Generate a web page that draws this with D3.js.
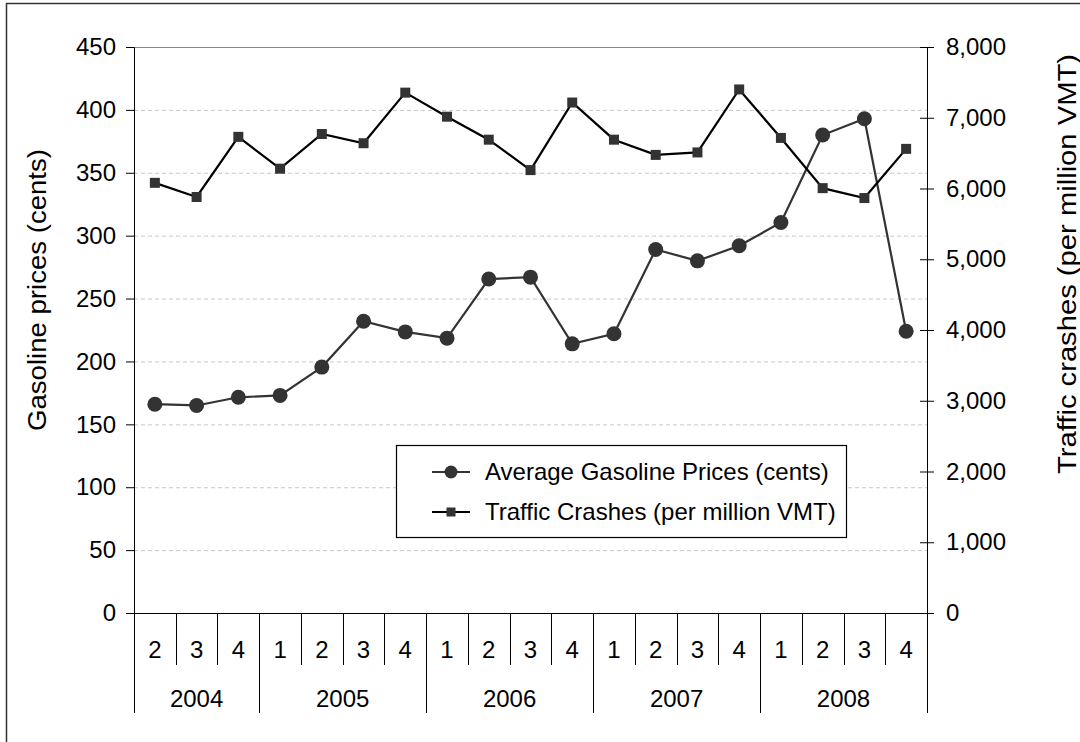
<!DOCTYPE html>
<html>
<head>
<meta charset="utf-8">
<script src="https://cdn.jsdelivr.net/npm/d3@7"></script>
<style>
  body { margin: 0; background: #fff; }
  svg { display: block; }
  text { font-family: "Liberation Sans", Arial, sans-serif; fill: #000; }
</style>
</head>
<body>
<div id="chart"></div>
<script>

//********************* DATA ************************************

var years = ["2004", "2005", "2006", "2007", "2008"];
var quarters = ["2", "3", "4", "1", "2", "3", "4", "1", "2", "3", "4",
                "1", "2", "3", "4", "1", "2", "3", "4"];
var yearOf = ["2004", "2004", "2004", "2005", "2005", "2005", "2005",
              "2006", "2006", "2006", "2006", "2007", "2007", "2007", "2007",
              "2008", "2008", "2008", "2008"];
var gasPrices = [166, 165, 171.5, 173, 195.5, 232, 223.5, 218.5, 265.5, 267,
                 214, 222, 289, 280, 292, 310.5, 380, 393, 224];
var crashes = [6080, 5880, 6730, 6280, 6770, 6640, 7355, 7015, 6690, 6260,
               7215, 6690, 6475, 6510, 7400, 6715, 6005, 5865, 6560];
var leftTicks = [0, 50, 100, 150, 200, 250, 300, 350, 400, 450];
var rightTicks = [0, 1000, 2000, 3000, 4000, 5000, 6000, 7000, 8000];

//********************* DIMENSIONS ************************************

var W = 1080, H = 742;
var margin = {top: 47, right: 153, bottom: 129, left: 134},
    width = W - margin.left - margin.right,
    height = H - margin.top - margin.bottom;

var svg = d3.select("#chart").append("svg")
    .attr("width", W)
    .attr("height", H);

// outer frame
svg.append("rect")
    .attr("x", 6.5).attr("y", 3.5)
    .attr("width", W + 10).attr("height", H + 10)
    .attr("fill", "none")
    .attr("stroke", "#333")
    .attr("stroke-width", 1.5);

var g = svg.append("g")
    .attr("transform", "translate(" + margin.left + "," + margin.top + ")");

var idx = d3.range(quarters.length);
var x = d3.scaleBand().domain(idx).range([0, width]).padding(0);
var yLeft = d3.scaleLinear().domain([0, 450]).range([height, 0]);
var yRight = d3.scaleLinear().domain([0, 8000]).range([height, 0]);

//********************* GRID ************************************

g.append("g").selectAll("line")
    .data(leftTicks.filter(function(d) { return d > 0 && d < 450; }))
  .enter().append("line")
    .attr("x1", 0).attr("x2", width)
    .attr("y1", function(d) { return yLeft(d) + 0.5; })
    .attr("y2", function(d) { return yLeft(d) + 0.5; })
    .attr("stroke", "#c8c8c8")
    .attr("stroke-dasharray", "4,3");

g.append("line")
    .attr("x1", 0).attr("x2", width)
    .attr("y1", yLeft(450) + 0.5).attr("y2", yLeft(450) + 0.5)
    .attr("stroke", "#888");

//********************* AXES ************************************

var leftAxis = g.append("g")
    .call(d3.axisLeft(yLeft).tickValues(leftTicks).tickSize(8).tickPadding(10));

var rightAxis = g.append("g")
    .attr("transform", "translate(" + width + ",0)")
    .call(d3.axisRight(yRight).tickValues(rightTicks).tickSize(7).tickPadding(12)
      .tickFormat(d3.format(",")));
rightAxis.selectAll(".tick line").attr("x1", -7);

[leftAxis, rightAxis].forEach(function(a) {
  a.select(".domain").attr("stroke", "#000");
  a.selectAll(".tick line").attr("stroke", "#000");
  a.selectAll("text").attr("font-size", 24).attr("fill", "#000")
    .attr("font-family", "Liberation Sans, Arial, sans-serif");
});

// category axis (quarters / years)
var cat = g.append("g").attr("transform", "translate(0," + height + ")");
cat.append("line").attr("x1", 0).attr("x2", width)
    .attr("y1", 0.5).attr("y2", 0.5).attr("stroke", "#000");

cat.selectAll(".qsep")
    .data(idx.concat([quarters.length]))
  .enter().append("line")
    .attr("class", "qsep")
    .attr("x1", function(i) { return Math.round(i * x.bandwidth()) + 0.5; })
    .attr("x2", function(i) { return Math.round(i * x.bandwidth()) + 0.5; })
    .attr("y1", 0)
    .attr("y2", function(i) {
      var isYearEdge = i === 0 || i === quarters.length || yearOf[i] !== yearOf[i - 1];
      return isYearEdge ? 100 : 52;
    })
    .attr("stroke", "#000");

cat.selectAll(".qlabel")
    .data(idx)
  .enter().append("text")
    .attr("class", "qlabel")
    .attr("x", function(i) { return x(i) + x.bandwidth() / 2; })
    .attr("y", 45)
    .attr("text-anchor", "middle")
    .attr("font-size", 24)
    .text(function(i) { return quarters[i]; });

cat.selectAll(".ylabel")
    .data(years)
  .enter().append("text")
    .attr("class", "ylabel")
    .attr("x", function(yr) {
      var first = yearOf.indexOf(yr), last = yearOf.lastIndexOf(yr);
      return (x(first) + x(last) + x.bandwidth()) / 2;
    })
    .attr("y", 94)
    .attr("text-anchor", "middle")
    .attr("font-size", 24)
    .text(function(d) { return d; });

// axis titles (stretched lengthwise like the original)
svg.append("text")
    .attr("transform", "translate(46,290) rotate(-90)")
    .attr("text-anchor", "middle")
    .attr("font-size", 25)
    .attr("textLength", 282)
    .attr("lengthAdjust", "spacingAndGlyphs")
    .text("Gasoline prices (cents)");

svg.append("text")
    .attr("transform", "translate(1076,264) rotate(-90)")
    .attr("text-anchor", "middle")
    .attr("font-size", 25)
    .attr("textLength", 420)
    .attr("lengthAdjust", "spacingAndGlyphs")
    .text("Traffic crashes (per million VMT)");

//********************* SERIES ************************************

var cx = function(d, i) { return x(i) + x.bandwidth() / 2; };

var gasLine = d3.line()
    .x(cx)
    .y(function(d) { return yLeft(d); });

var crashLine = d3.line()
    .x(cx)
    .y(function(d) { return yRight(d); });

g.append("path")
    .datum(gasPrices)
    .attr("d", gasLine)
    .attr("fill", "none")
    .attr("stroke", "#333")
    .attr("stroke-width", 2.2);

g.selectAll(".gas")
    .data(gasPrices)
  .enter().append("circle")
    .attr("class", "gas")
    .attr("cx", cx)
    .attr("cy", function(d) { return yLeft(d); })
    .attr("r", 7.5)
    .attr("fill", "#333");

g.append("path")
    .datum(crashes)
    .attr("d", crashLine)
    .attr("fill", "none")
    .attr("stroke", "#000")
    .attr("stroke-width", 2.2);

g.selectAll(".crash")
    .data(crashes)
  .enter().append("rect")
    .attr("class", "crash")
    .attr("x", function(d, i) { return cx(d, i) - 5; })
    .attr("y", function(d) { return yRight(d) - 5; })
    .attr("width", 10).attr("height", 10)
    .attr("fill", "#333");

//********************* LEGEND ************************************

var legendItems = [
  {label: "Average Gasoline Prices (cents)", color: "#333", shape: "circle"},
  {label: "Traffic Crashes (per million VMT)", color: "#000", shape: "square"}
];

var legend = svg.append("g").attr("transform", "translate(396,445)");
legend.append("rect")
    .attr("x", 0.5).attr("y", 0.5)
    .attr("width", 450).attr("height", 92)
    .attr("fill", "#fff")
    .attr("stroke", "#000")
    .attr("stroke-width", 1.2);

var li = legend.selectAll(".li")
    .data(legendItems)
  .enter().append("g")
    .attr("transform", function(d, i) { return "translate(0," + (27 + i * 40) + ")"; });

li.append("line")
    .attr("x1", 36).attr("x2", 74)
    .attr("stroke", function(d) { return d.color; })
    .attr("stroke-width", 2.2);

li.filter(function(d) { return d.shape === "circle"; })
  .append("circle").attr("cx", 55).attr("r", 6.5).attr("fill", "#333");

li.filter(function(d) { return d.shape === "square"; })
  .append("rect").attr("x", 50.5).attr("y", -4.5).attr("width", 9).attr("height", 9)
    .attr("fill", "#333");

li.append("text")
    .attr("x", 89)
    .attr("dy", "0.35em")
    .attr("font-size", 24)
    .text(function(d) { return d.label; });

</script>
</body>
</html>
